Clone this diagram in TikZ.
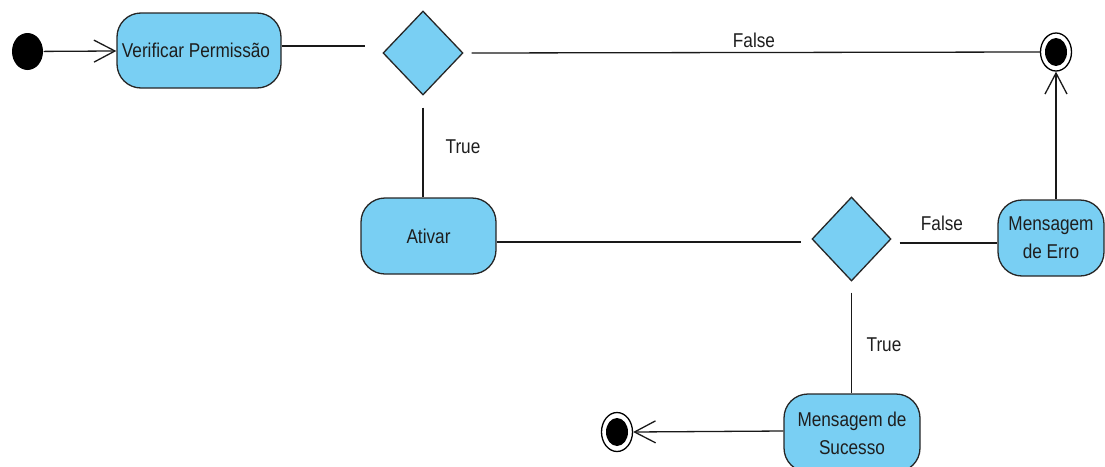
\documentclass[tikz,border=0pt]{standalone}
\usepackage{fontspec}
\setmainfont{Liberation Sans}[FakeStretch=0.86]
\usetikzlibrary{shapes.geometric,arrows.meta}
\definecolor{actblue}{HTML}{79CFF3}
\definecolor{txt}{HTML}{1E1E1E}
\begin{document}
\begin{tikzpicture}[x=1pt,y=-1pt,
  line width=1.3pt,
  actbox/.style={draw=black!85, fill=actblue, rounded corners=24pt, line width=1.3pt,
    inner sep=0pt, align=center, text=txt, font=\fontsize{20}{28}\selectfont},
  decis/.style={diamond, draw=black!85, fill=actblue, line width=1.3pt, inner sep=0pt},
  lbl/.style={text=txt, font=\fontsize{20}{24}\selectfont, inner sep=0pt},
  conn/.style={draw=black!90, line width=1.3pt},
  arr/.style={conn, -{Straight Barb[length=21pt,width=22pt,line width=1.3pt]}}
]
\useasboundingbox (0,0) rectangle (1105,466);

% initial node
\node[ellipse, fill=black, minimum width=31pt, minimum height=37pt, inner sep=0pt] (init) at (27.5,51.5) {};

% final nodes
\node[ellipse, draw=black, line width=1.3pt, fill=white, minimum width=31pt, minimum height=38pt, inner sep=0pt] (f1) at (1056,52) {};
\node[ellipse, fill=black, minimum width=22pt, minimum height=28pt, inner sep=0pt] at (f1) {};
\node[ellipse, draw=black, line width=1.3pt, fill=white, minimum width=31pt, minimum height=39pt, inner sep=0pt] (f2) at (617,432) {};
\node[ellipse, fill=black, minimum width=22pt, minimum height=28pt, inner sep=0pt] at (f2) {};

% activities
\node[actbox, minimum width=164pt, minimum height=75pt] (verif) at (199,50.5) {\hspace*{-6pt}Verificar Permiss\~ao};
\node[actbox, minimum width=135pt, minimum height=76pt] (ativar) at (428.5,236) {Ativar};
\node[actbox, minimum width=106pt, minimum height=76pt] (erro) at (1051,238) {Mensagem\\de Erro};
\node[actbox, minimum width=136pt, minimum height=78pt] (suc) at (852,433) {Mensagem de\\Sucesso};

% decisions
\node[decis, minimum width=80pt, minimum height=84pt] (d1) at (423,53) {};
\node[decis, minimum width=79pt, minimum height=84pt] (d2) at (851.5,239) {};

% connectors
\draw[arr] (init) -- (verif);
\draw[conn] ([yshift=4.5pt]verif.east) -- ([xshift=-17pt,yshift=7pt]d1.west);
\draw[conn] ([xshift=8pt]d1.east) -- (f1.west);
\draw[conn] ([yshift=-12pt]d1.south) -- (d1.south |- ativar.north);
\draw[conn] ([yshift=-6pt]ativar.east) -- ([xshift=-10pt,yshift=-3pt]d2.west);
\draw[conn] ([xshift=8pt,yshift=-4pt]d2.east) -- ([yshift=-5pt]erro.west);
\draw[arr] (erro.north -| f1) -- (f1.south);
\draw[conn] ([yshift=-11pt]d2.south) -- (d2.south |- suc.north);
\draw[arr] ([yshift=2pt]suc.west) -- (f2.east);

% labels
\node[lbl] (lf1) at (754,40) {False};
\node[lbl] (lt1) at (463,147) {True};
\node[lbl] (lf2) at (942,223) {False};
\node[lbl] (lt2) at (884,345) {True};
\end{tikzpicture}
\end{document}
